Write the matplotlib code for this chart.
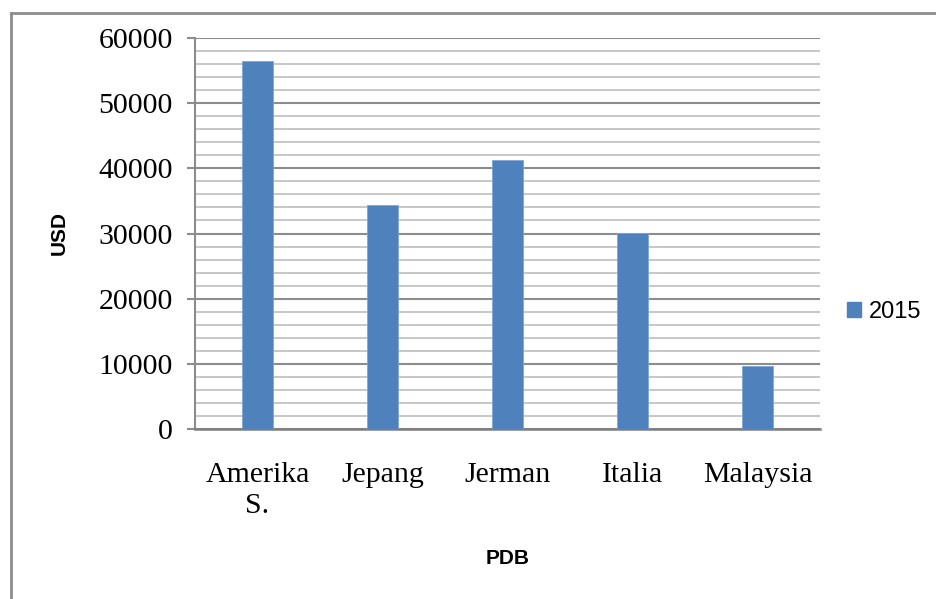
import matplotlib.pyplot as plt
from matplotlib.lines import Line2D
from matplotlib.patches import Patch
from matplotlib.ticker import MultipleLocator

countries = ["Amerika\nS.", "Jepang", "Jerman", "Italia", "Malaysia"]
gdp_2015 = [56400, 34450, 41250, 30150, 9650]
series_label = "2015"

BAR = "#4F81BD"
MAJOR = "#8c8c8c"
MINOR = "#bdbdbd"

fig = plt.figure(figsize=(9.36, 5.99), dpi=100)
ax = fig.add_axes([195 / 936, (599 - 429) / 599, 625 / 936, 391 / 599])

x = range(len(countries))
ax.bar(x, gdp_2015, width=0.25, color=BAR, edgecolor="#7fa6d6", linewidth=0.6, zorder=3)

ax.set_xlim(-0.5, len(countries) - 0.5)
ax.set_ylim(0, 60000)
ax.yaxis.set_major_locator(MultipleLocator(10000))
ax.yaxis.set_minor_locator(MultipleLocator(2000))
ax.grid(which="minor", axis="y", color=MINOR, linewidth=1.2, zorder=0)
ax.grid(which="major", axis="y", color=MAJOR, linewidth=1.5, zorder=1)

for side in ("top", "right"):
    ax.spines[side].set_visible(False)
ax.spines["left"].set_color(MAJOR)
ax.spines["left"].set_linewidth(1.5)
ax.spines["bottom"].set_color("#7f7f7f")
ax.spines["bottom"].set_linewidth(1.8)

ax.set_xticks(list(x))
ax.set_xticklabels(countries, family="Liberation Serif", fontsize=21.5, linespacing=1.25)
ax.tick_params(axis="x", length=0, pad=24)
ax.tick_params(axis="y", which="major", length=6, width=1.5, color=MAJOR, pad=10,
               labelsize=21.5)
ax.tick_params(axis="y", which="minor", length=0)
for lab in ax.get_yticklabels():
    lab.set_family("Liberation Serif")

fig.text(59 / 936, 1 - 233 / 599, "USD", rotation=90, ha="center", va="center",
         family="Liberation Sans", fontsize=15, fontweight="bold")
fig.text(508 / 936, 1 - 559 / 599, "PDB", ha="center", va="center",
         family="Liberation Sans", fontsize=15, fontweight="bold")

handle = Patch(facecolor=BAR, edgecolor=BAR)
fig.legend([handle], [series_label], loc="center left",
           bbox_to_anchor=(826 / 936, 1 - 312 / 599), frameon=False,
           handlelength=0.6, handleheight=0.6, handletextpad=0.3,
           prop={"family": "Liberation Sans", "size": 17})

# outer chart-area border (only left and top edges are visible in the crop)
fig.add_artist(Line2D([11 / 936, 11 / 936], [0, 1 - 13 / 599], transform=fig.transFigure,
                      color=MAJOR, linewidth=2))
fig.add_artist(Line2D([11 / 936, 1], [1 - 13 / 599, 1 - 13 / 599], transform=fig.transFigure,
                      color=MAJOR, linewidth=2))

fig.savefig("out.png", dpi=100)
